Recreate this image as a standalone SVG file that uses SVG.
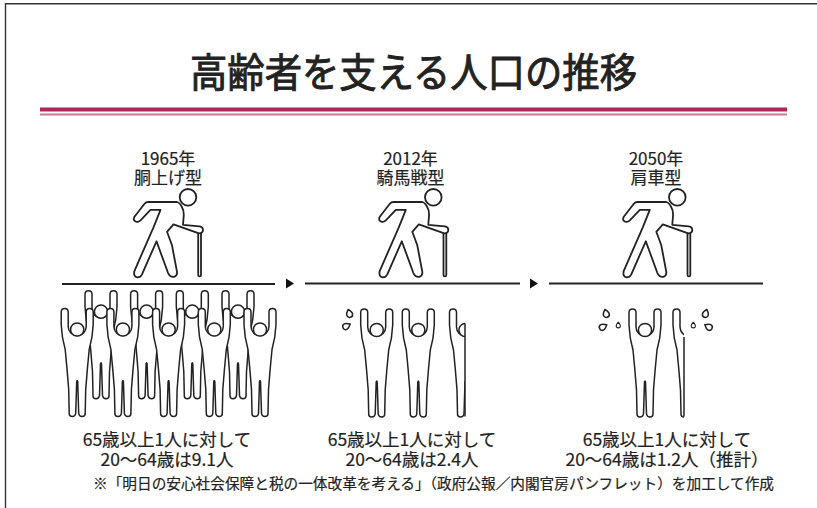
<svg xmlns="http://www.w3.org/2000/svg" width="817" height="508" viewBox="0 0 817 508">
  <style>
    .txt { font-family: "Noto Sans CJK JP", "Noto Sans", sans-serif; fill: #222; stroke: #222; stroke-width: 0.2; }
    .title { stroke-width: 0.9; }
    .fig { fill: #fff; stroke: #222; stroke-width: 1.8; stroke-linejoin: round; }
    .fine { fill: #fff; stroke: #222; stroke-width: 1.5; stroke-linejoin: round; }
    .ground { stroke: #222; stroke-width: 2; }
    .tip { fill: #111; }
  </style>
  <defs>
    <!-- elderly walker with a cane, origin at head centre -->
    <g id="elder">
      <rect class="fig" x="10.2" y="31" width="2.8" height="48" rx="1.4"/>
      <path class="fig" d="M -11,4.7 L -40,4.7 Q -42,4.7 -43.5,6.5 L -53.5,19.5 Q -55.5,23 -52,24.3 Q -49.5,25 -47.5,23 L -37.5,12.5 L -27.5,12.5 L -34.5,30 L -53.5,73.5 Q -55,79.5 -50.5,80 Q -47.5,80 -46,77 L -31.5,44 L -20,75.5 Q -18,80 -14,79.5 Q -10.5,78.5 -11,74.5 L -16,48 L -21,34.5 L -14.5,27 L 11,36 Q 15,36 15,32.5 Q 15,29.5 11.5,29 L -5,27.5 L -4.5,21 Q -3.5,14 -6,10 Q -8,5.5 -11,4.7 Z"/>
      <circle class="fig" cx="0" cy="0" r="8.3"/>
    </g>
    <!-- supporter with raised arms, origin at head centre -->
    <path id="bodyOutline" d="M -8,84 L -8.5,60 Q -10,40 -12,20 Q -15.5,8 -16,-5 L -16,-17.5 Q -16,-21 -12.5,-21 Q -9,-21 -9,-17.5 L -9,-3 A 9,9 0 0 0 9,-3 L 9,-17.5 Q 9,-21 12.5,-21 Q 16,-21 16,-17.5 L 16,-5 Q 15.5,8 12,20 Q 10,40 8.5,60 L 8,84 Q 8,87 5,87 Q 2,87 1.5,84 L 0.5,52 Q 0,50 -0.5,52 L -1.5,84 Q -2,87 -5,87 Q -8,87 -8,84 Z"/>
    <g id="lifter">
      <use href="#bodyOutline" class="fine"/>
      <circle class="fine" cx="0" cy="0" r="6.6"/>
    </g>
    <!-- sweat drop, tip pointing up -->
    <path id="drop" class="fine" d="M 0,-4 C 1.7,-2.1 3,-0.5 3,1.1 A 3,3 0 0 1 -3,1.1 C -3,-0.5 -1.7,-2.1 0,-4 Z"/>
    <clipPath id="cutA"><rect x="430" y="290" width="35" height="140"/></clipPath>
    <clipPath id="cutB"><rect x="660" y="290" width="24" height="140"/></clipPath>
  </defs>

  <!-- frame -->
  <path d="M 5.5,508 L 5.5,3.8 L 817,3.8" fill="none" stroke="#333" stroke-width="1.4"/>

  <!-- heading -->
  <g id="heading">
    <text class="txt title" x="413.5" y="87" font-size="40" text-anchor="middle" textLength="447" lengthAdjust="spacingAndGlyphs">高齢者を支える人口の推移</text>
    <rect x="40" y="107.5" width="747" height="4" fill="#ad2859"/>
    <rect x="40" y="113.5" width="747" height="2" fill="#cc7896"/>
  </g>

  <!-- ground lines and arrows -->
  <g id="connectors">
    <line class="ground" x1="62" y1="284" x2="275" y2="284"/>
    <line class="ground" x1="305" y1="283.5" x2="520" y2="283.5"/>
    <line class="ground" x1="549" y1="283.5" x2="763" y2="283.5"/>
    <polygon class="tip" points="286,278.5 294,283.5 286,288.5"/>
    <polygon class="tip" points="530,278.5 538,283.5 530,288.5"/>
  </g>

  <!-- 1965 -->
  <g id="node-1965">
    <text class="txt" x="168" y="164.5" font-size="17" text-anchor="middle">1965年</text>
    <text class="txt" x="168" y="183.5" font-size="17" text-anchor="middle">胴上げ型</text>
    <use href="#elder" x="188" y="197.3"/>
    <use href="#lifter" x="101" y="311.7"/>
    <use href="#lifter" x="146.6" y="311.7"/>
    <use href="#lifter" x="192.3" y="311.7"/>
    <use href="#lifter" x="238" y="311.7"/>
    <use href="#lifter" x="77.2" y="329.5"/>
    <use href="#lifter" x="122.9" y="329.5"/>
    <use href="#lifter" x="168.6" y="329.5"/>
    <use href="#lifter" x="214.3" y="329.5"/>
    <use href="#lifter" x="260" y="329.5"/>
    <text class="txt" x="167" y="446" font-size="17.5" text-anchor="middle">65歳以上1人に対して</text>
    <text class="txt" x="167" y="466" font-size="17.5" text-anchor="middle">20〜64歳は9.1人</text>
  </g>

  <!-- 2012 -->
  <g id="node-2012">
    <text class="txt" x="410.5" y="164.5" font-size="17" text-anchor="middle">2012年</text>
    <text class="txt" x="410.5" y="183.5" font-size="17" text-anchor="middle">騎馬戦型</text>
    <use href="#elder" x="433.3" y="197.3"/>
    <use href="#drop" transform="translate(349.3,313.3) rotate(-15)"/>
    <use href="#drop" transform="translate(346.7,326) rotate(60)"/>
    <use href="#lifter" x="376.7" y="330"/>
    <use href="#lifter" x="418.3" y="330"/>
    <g clip-path="url(#cutA)">
      <use href="#lifter" x="465.5" y="330"/>
    </g>
    <line x1="465" y1="323.4" x2="465" y2="416.5" stroke="#222" stroke-width="1.5"/>
    <text class="txt" x="412" y="446" font-size="17.5" text-anchor="middle">65歳以上1人に対して</text>
    <text class="txt" x="412" y="466" font-size="17.5" text-anchor="middle">20〜64歳は2.4人</text>
  </g>

  <!-- 2050 -->
  <g id="node-2050">
    <text class="txt" x="656" y="164.5" font-size="17" text-anchor="middle">2050年</text>
    <text class="txt" x="656" y="183.5" font-size="17" text-anchor="middle">肩車型</text>
    <use href="#elder" x="677.3" y="197.3"/>
    <use href="#drop" transform="translate(606,313.3) rotate(-15)"/>
    <use href="#drop" transform="translate(603.3,326.7) rotate(60)"/>
    <use href="#drop" transform="translate(618.3,325) scale(0.7)"/>
    <use href="#drop" transform="translate(705.7,313.3) rotate(15)"/>
    <use href="#drop" transform="translate(708.3,326.7) rotate(-60)"/>
    <use href="#drop" transform="translate(693.3,325) scale(0.7)"/>
    <use href="#lifter" x="645" y="330"/>
    <g clip-path="url(#cutB)">
      <use href="#bodyOutline" class="fine" x="689" y="330"/>
    </g>
    <line x1="684" y1="337" x2="684" y2="416.5" stroke="#222" stroke-width="1.5"/>
    <text class="txt" x="667" y="446" font-size="17.5" text-anchor="middle">65歳以上1人に対して</text>
    <text class="txt" x="667" y="466" font-size="17.5" text-anchor="middle">20〜64歳は1.2人（推計）</text>
  </g>

  <text class="txt" x="433.5" y="489" font-size="14.5" text-anchor="middle" textLength="681" lengthAdjust="spacingAndGlyphs">※「明日の安心社会保障と税の一体改革を考える」（政府公報／内閣官房パンフレット）を加工して作成</text>
</svg>
